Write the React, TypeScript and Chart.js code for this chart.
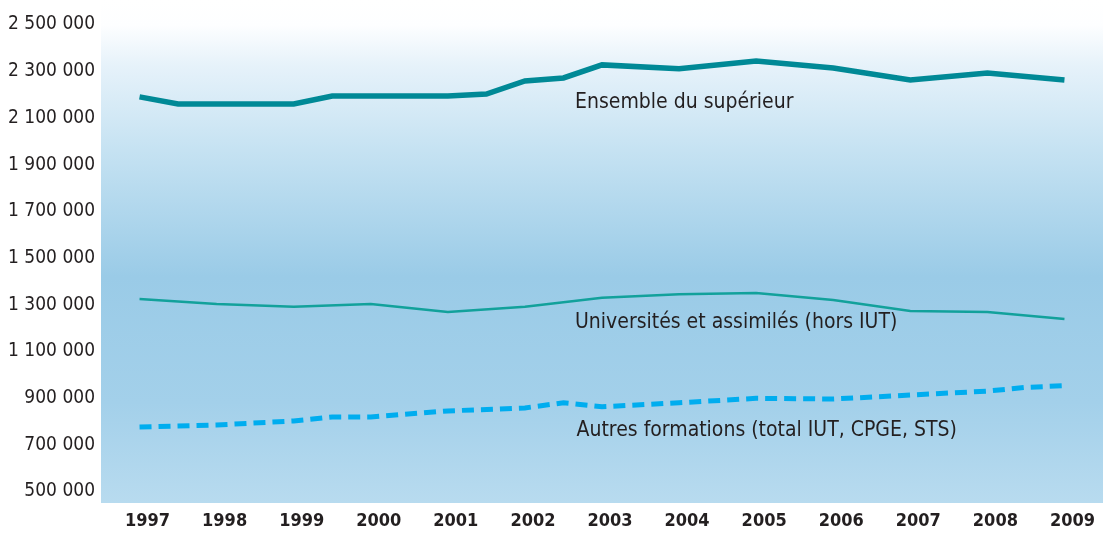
import React, { useEffect, useRef } from 'react';
import { Chart, registerables } from 'chart.js';

Chart.register(...registerables);

const FONT = "'Liberation Sans Narrow', 'DejaVu Sans Condensed', 'Roboto', sans-serif";

// X axis: years (tick labels)
const yearTicks = [1997, 1998, 1999, 2000, 2001, 2002, 2003, 2004, 2005, 2006, 2007, 2008, 2009];
// Y axis tick values
const yTickValues = [500000, 700000, 900000, 1100000, 1300000, 1500000, 1700000, 1900000, 2100000, 2300000, 2500000];

// Ensemble du supérieur
const ensembleYears = [1997, 1997.5, 1999, 1999.5, 2001, 2001.5, 2002, 2002.5, 2003, 2004, 2005, 2006, 2007, 2008, 2009];
const ensembleValues = [2190000, 2160000, 2160000, 2194000, 2194000, 2202000, 2258000, 2271000, 2327000, 2310000, 2344000, 2314000, 2262000, 2292000, 2262000];

// Universités et assimilés (hors IUT)
const univYears = [1997, 1998, 1999, 2000, 2001, 2002, 2003, 2004, 2005, 2006, 2007, 2008, 2009];
const univValues = [1324000, 1303000, 1291000, 1303000, 1269000, 1291000, 1330000, 1345000, 1350000, 1320000, 1273000, 1269000, 1239000];

// Autres formations (total IUT, CPGE, STS)
const autresYears = [1997, 1998, 1999, 1999.5, 2000, 2001, 2002, 2002.5, 2003, 2004, 2005, 2006, 2007, 2008, 2008.5, 2009];
const autresValues = [776000, 785000, 802000, 819000, 819000, 845000, 858000, 880000, 863000, 880000, 899000, 896000, 913000, 930000, 946000, 953000];

// Series labels written on the chart
const labelTexts = ['Ensemble du supérieur', 'Universités et assimilés (hors IUT)', 'Autres formations (total IUT, CPGE, STS)'];
const labelYears = [2002.65, 2002.65, 2002.67];
const labelValues = [2164000, 1222000, 763000];

const fmt = (v: number) => String(v).replace(/\B(?=(\d{3})+(?!\d))/g, ' ');

const toPoints = (xs: number[], ys: number[]) => xs.map((x, i) => ({ x, y: ys[i] }));

const backgroundPlugin = {
  id: 'bgGradient',
  beforeDraw(chart: any) {
    const { ctx, chartArea } = chart;
    const g = ctx.createLinearGradient(0, 0, 0, chartArea.bottom);
    g.addColorStop(0, '#ffffff');
    g.addColorStop(0.05, '#fdfeff');
    g.addColorStop(0.13, '#e6f2fa');
    g.addColorStop(0.3, '#c5e2f2');
    g.addColorStop(0.55, '#9acbe7');
    g.addColorStop(0.8, '#a3d0ea');
    g.addColorStop(1, '#b8dbef');
    ctx.save();
    ctx.fillStyle = g;
    ctx.fillRect(chartArea.left, 0, chartArea.right - chartArea.left, chartArea.bottom);
    ctx.restore();
  },
};

const labelsPlugin = {
  id: 'seriesLabels',
  afterDatasetsDraw(chart: any) {
    const { ctx, scales } = chart;
    ctx.save();
    ctx.font = `21px ${FONT}`;
    ctx.fillStyle = '#231f20';
    ctx.textAlign = 'left';
    ctx.textBaseline = 'middle';
    labelTexts.forEach((t, i) => {
      ctx.fillText(t, scales.x.getPixelForValue(labelYears[i]), scales.y.getPixelForValue(labelValues[i]));
    });
    ctx.restore();
  },
};

export default function App() {
  const ref = useRef<HTMLCanvasElement | null>(null);
  useEffect(() => {
    document.body.style.margin = '0';
    const canvas = ref.current!;
    const chart = new Chart(canvas, {
      type: 'line',
      data: {
        datasets: [
          {
            label: labelTexts[0],
            data: toPoints(ensembleYears, ensembleValues),
            borderColor: '#008996',
            borderWidth: 5.5,
            pointRadius: 0,
            tension: 0,
          },
          {
            label: labelTexts[1],
            data: toPoints(univYears, univValues),
            borderColor: '#12a19b',
            borderWidth: 2.5,
            pointRadius: 0,
            tension: 0,
          },
          {
            label: labelTexts[2],
            data: toPoints(autresYears, autresValues),
            borderColor: '#00adef',
            borderWidth: 5,
            borderDash: [12, 7],
            pointRadius: 0,
            tension: 0,
          },
        ],
      },
      options: {
        responsive: false,
        animation: false,
        layout: { padding: { top: 0, right: 2, bottom: 0, left: 0 } },
        plugins: { legend: { display: false }, tooltip: { enabled: false } },
        scales: {
          x: {
            type: 'linear',
            min: 1996.5,
            max: 2009.5,
            afterBuildTicks: (s: any) => {
              s.ticks = yearTicks.map((v) => ({ value: v }));
            },
            afterFit: (s: any) => {
              s.height = 31;
            },
            grid: { display: false, drawTicks: false },
            border: { display: false },
            ticks: {
              autoSkip: false,
              maxRotation: 0,
              padding: 8,
              labelOffset: 8,
              color: '#231f20',
              font: { family: FONT, size: 18, weight: 'bold' },
              callback: (v: any) => String(v),
            },
          },
          y: {
            type: 'linear',
            min: 450700,
            max: 2604900,
            afterBuildTicks: (s: any) => {
              s.ticks = yTickValues.map((v) => ({ value: v }));
            },
            afterFit: (s: any) => {
              s.width = 101;
              s.paddingTop = 0;
              s.paddingBottom = 0;
            },
            grid: { display: false, drawTicks: false },
            border: { display: false },
            ticks: {
              padding: 6,
              color: '#231f20',
              font: { family: FONT, size: 19 },
              callback: (v: any) => fmt(v),
            },
          },
        },
      },
      plugins: [backgroundPlugin, labelsPlugin],
    } as any);
    return () => chart.destroy();
  }, []);
  return <canvas ref={ref} width={1105} height={534} style={{ display: 'block' }} />;
}
